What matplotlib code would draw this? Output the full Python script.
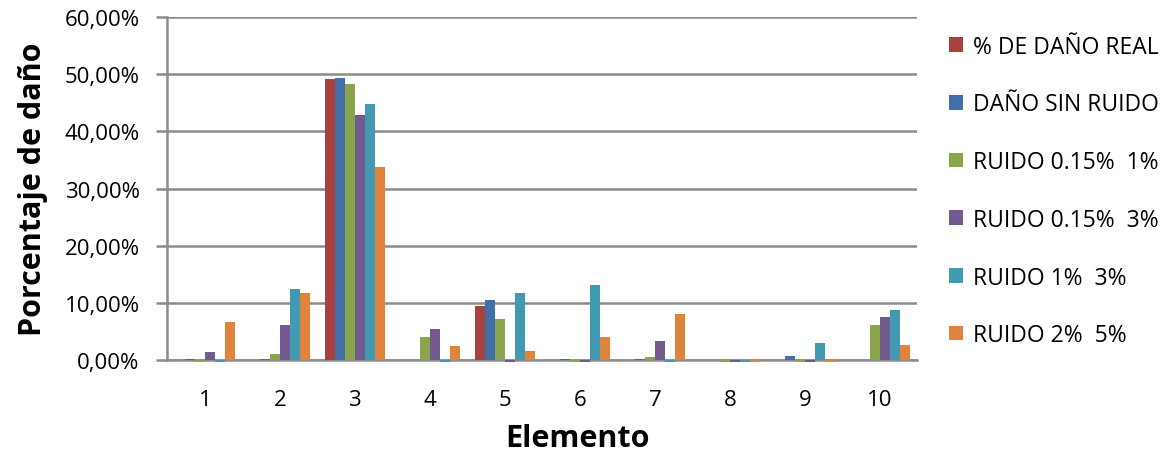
import matplotlib
matplotlib.use("Agg")
import matplotlib.pyplot as plt
import numpy as np
from matplotlib.ticker import FuncFormatter

elementos = ["1", "2", "3", "4", "5", "6", "7", "8", "9", "10"]

dano_real      = [0.0, 0.0, 49.1, 0.0, 9.5, 0.0, 0.0, 0.0, 0.0, 0.0]
dano_sin_ruido = [0.2, 0.2, 49.3, 0.0, 10.5, 0.2, 0.2, 0.0, 0.7, 0.0]
ruido_015_1    = [-0.3, 1.0, 48.2, 4.0, 7.2, -0.3, 0.6, -0.3, -0.3, 6.2]
ruido_015_3    = [1.4, 6.1, 42.8, 5.4, -0.3, -0.3, 3.3, -0.3, -0.3, 7.5]
ruido_1_3      = [-0.3, 12.4, 44.7, -0.3, 11.8, 13.1, -0.3, -0.3, 2.9, 8.8]
ruido_2_5      = [6.7, 11.7, 33.7, 2.4, 1.6, 4.1, 8.0, -0.3, -0.3, 2.6]

series = [
    ("% DE DAÑO REAL", dano_real, "#A8423F"),
    ("DAÑO SIN RUIDO", dano_sin_ruido, "#4170A9"),
    ("RUIDO 0.15%  1%", ruido_015_1, "#8BA54C"),
    ("RUIDO 0.15%  3%", ruido_015_3, "#725A91"),
    ("RUIDO 1%  3%", ruido_1_3, "#4299B2"),
    ("RUIDO 2%  5%", ruido_2_5, "#E0843D"),
]

plt.rcParams["font.family"] = ["Open Sans", "DejaVu Sans"]

fig = plt.figure(figsize=(11.76, 4.56), dpi=100)
ax = fig.add_axes([0.1423, 0.2083, 0.6378, 0.7522])

x = np.arange(len(elementos))
n = len(series)
w = 0.8 / n
grid_c = "#8C8C8C"

for i, (name, vals, col) in enumerate(series):
    bars = ax.bar(x - 0.4 + w * (i + 0.5), vals, width=w, color=col,
                  linewidth=0, label=name, zorder=3)
    for b in bars:
        b.set_clip_on(False)

ax.set_xlim(-0.5, len(elementos) - 0.5)
ax.set_ylim(0, 60)
ax.set_yticks(np.arange(0, 61, 10))
ax.yaxis.set_major_formatter(FuncFormatter(lambda v, p: f"{v:.2f}%".replace(".", ",")))
ax.set_xticks(x)
ax.set_xticklabels(elementos)

ax.grid(axis="y", color=grid_c, linewidth=1.8, zorder=0)
ax.set_axisbelow(True)
for s in ["top", "right"]:
    ax.spines[s].set_visible(False)
ax.spines["left"].set_color(grid_c)
ax.spines["left"].set_linewidth(1.8)
ax.spines["bottom"].set_color(grid_c)
ax.spines["bottom"].set_linewidth(1.8)
ax.spines["bottom"].set_zorder(2)

ax.tick_params(axis="y", length=8, width=1.8, color=grid_c, labelsize=16, pad=12)
ax.tick_params(axis="x", length=0, labelsize=16, pad=21)

ax.set_ylabel("Porcentaje de daño", fontsize=22, fontweight="bold", labelpad=12)
ax.set_xlabel("Elemento", fontsize=22, fontweight="bold")
ax.xaxis.set_label_coords(0.547, -0.185)

leg = ax.legend(loc="upper left", bbox_to_anchor=(1.03, 0.975), frameon=False,
                fontsize=16.5, handlelength=0.6, handleheight=0.6,
                handletextpad=0.45, labelspacing=1.47, borderaxespad=0)

fig.savefig("out.png", dpi=100)
